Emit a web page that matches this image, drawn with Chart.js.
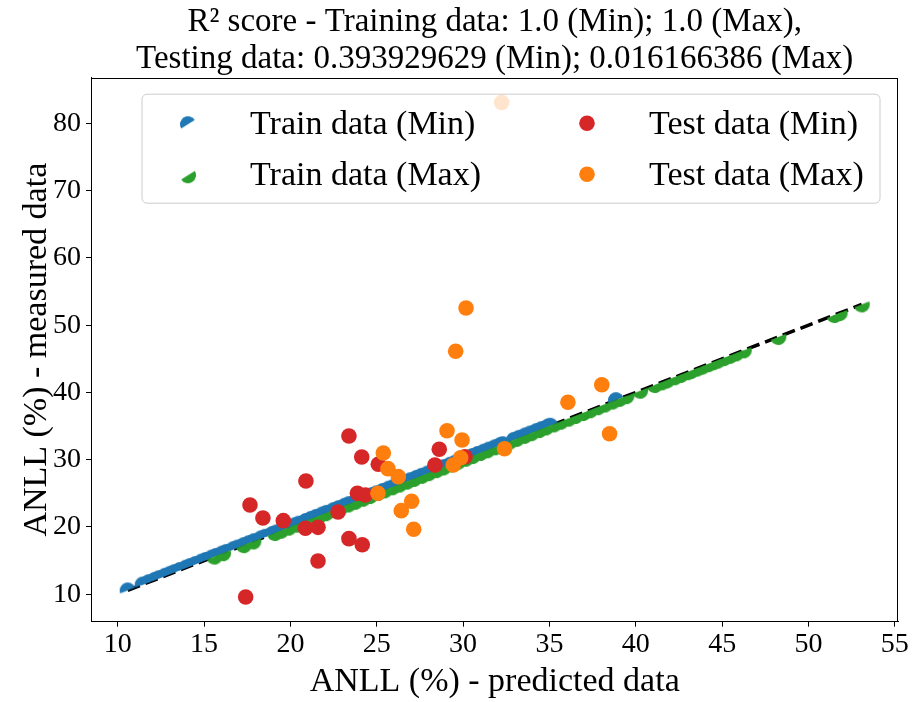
<!DOCTYPE html>
<html>
<head>
<meta charset="utf-8">
<script src="https://cdn.jsdelivr.net/npm/chart.js@4.4.1/dist/chart.umd.min.js"></script>
<style>
  html, body { margin: 0; padding: 0; background: #fff; }
  #wrap { width: 912px; height: 702px; }
</style>
</head>
<body>
<div id="wrap"><canvas id="c" width="912" height="702"></canvas></div>
<script>
// ---------------- DATA ----------------
// Train data lie on the identity line (R^2 = 1.0): measured == predicted
const trainMinPred = [10.58, 11.45, 11.8, 12.15, 12.4, 12.75, 13.05, 13.3, 13.6, 13.95, 14.2, 14.5, 14.85,
  15.1, 15.45, 15.7, 16.05, 16.3, 16.7, 16.95, 17.3, 17.6, 17.9, 18.3, 18.55, 18.95, 19.2, 19.6, 19.9,
  20.25, 20.5, 20.9, 21.2, 21.5, 21.85, 22.1, 22.5, 22.8, 23.15, 23.4, 23.8, 24.05, 24.4, 24.75, 25.0,
  25.35, 25.7, 26.0, 26.3, 26.65, 26.95, 27.3, 27.6, 27.95, 28.3, 28.55, 28.9, 29.25, 29.55, 29.9,
  30.2, 30.55, 30.85, 31.2, 31.5, 31.85, 32.15, 32.3, 32.95, 33.25, 33.6, 33.9, 34.25, 34.55, 34.9, 35.05, 38.85];
const trainMinMeas = trainMinPred.slice();

const trainMaxPred = [15.6, 16.1, 17.3, 17.85, 19.1, 19.45, 19.9, 20.35, 20.8, 21.2, 21.65, 22.05, 22.5,
  22.9, 23.35, 23.75, 24.2, 24.6, 25.05, 25.45, 25.9, 26.3, 26.75, 27.15, 27.6, 28.0, 28.45, 28.85,
  29.3, 29.7, 30.15, 30.55, 31.0, 31.4, 31.85, 32.25, 32.7, 33.1, 33.55, 33.95, 34.4, 34.8, 35.25,
  35.65, 36.1, 36.5, 36.95, 37.35, 37.8, 38.2, 38.65, 39.05, 39.45, 40.25, 41.1, 41.5, 41.8, 42.25,
  42.6, 43.0, 43.2, 43.55, 43.85, 44.2, 44.5, 44.75, 45.1, 45.45, 45.8, 46.25, 48.25, 51.5, 51.8, 53.08];
const trainMaxMeas = trainMaxPred.slice();

const testMinPred = [23.39, 24.13, 25.09, 20.90, 17.66, 18.41, 19.59, 20.87, 21.60, 22.76, 23.88, 24.34,
  23.39, 24.16, 21.60, 17.41, 28.62, 28.37, 30.11];
const testMinMeas = [33.52, 30.40, 29.32, 26.84, 23.27, 21.34, 20.94, 19.81, 19.95, 22.23, 25.00, 24.76,
  18.27, 17.37, 14.95, 9.60, 31.55, 29.22, 30.45];

const testMaxPred = [30.17, 29.57, 29.07, 29.94, 25.38, 25.65, 26.25, 25.07, 27.02, 26.42, 27.14, 29.43,
  29.86, 32.40, 36.07, 38.03, 38.48, 32.23];
const testMaxMeas = [52.55, 46.11, 34.31, 32.93, 31.00, 28.67, 27.48, 25.01, 23.82, 22.43, 19.66, 29.22,
  30.30, 31.62, 38.55, 41.13, 33.85, 83.10];

const xTicks = [10, 15, 20, 25, 30, 35, 40, 45, 50, 55];
const yTicks = [10, 20, 30, 40, 50, 60, 70, 80];

const titleLines = ['R² score - Training data: 1.0 (Min); 1.0 (Max),',
                    'Testing data: 0.393929629 (Min); 0.016166386 (Max)'];
const seriesLabels = ['Train data (Min)', 'Train data (Max)', 'Test data (Min)', 'Test data (Max)'];
const xLabel = 'ANLL (%) - predicted data';
const yLabel = 'ANLL (%) - measured data';

// ---------------- STYLE ----------------
const FONT = "'Liberation Serif', 'DejaVu Serif', serif";
const C_BLUE = '#1f77b4', C_GREEN = '#2ca02c', C_RED = '#d62728', C_ORANGE = '#ff7f0e';
const PR = 7.8;

function halfDisc(color, upper, r, angleDeg) {
  const size = Math.ceil(2 * r + 2);
  const cv = document.createElement('canvas');
  cv.width = size; cv.height = size;
  const g = cv.getContext('2d');
  g.translate(size / 2, size / 2);
  g.rotate(-angleDeg * Math.PI / 180);
  g.beginPath();
  if (upper) g.arc(0, 0, r, Math.PI, 2 * Math.PI);
  else g.arc(0, 0, r, 0, Math.PI);
  g.closePath();
  g.fillStyle = color;
  g.fill();
  return cv;
}
const blueHalf = halfDisc(C_BLUE, true, 8, 21.3);
const greenHalf = halfDisc(C_GREEN, false, 8, 21.3);
const blueHalfLeg = halfDisc(C_BLUE, true, 8, 32);
const greenHalfLeg = halfDisc(C_GREEN, false, 8, 32);

const zip = (xs, ys) => xs.map((v, i) => ({ x: v, y: ys[i] }));
const allPred = trainMinPred.concat(trainMaxPred);
const lineLo = Math.min(...allPred), lineHi = Math.max(...allPred);

const frameTitleLegend = {
  id: 'frameTitleLegend',
  afterDatasetsDraw(chart) {
    const ctx = chart.ctx, a = chart.chartArea;
    ctx.save();
    ctx.strokeStyle = '#000';
    ctx.lineWidth = 1;
    ctx.strokeRect(Math.round(a.left) + 0.5, Math.round(a.top) + 0.5,
                   Math.round(a.right - a.left) - 1, Math.round(a.bottom - a.top) - 1);
    // title centred over the axes
    ctx.fillStyle = '#000';
    ctx.font = '33px ' + FONT;
    ctx.textAlign = 'center';
    ctx.textBaseline = 'middle';
    const cx = (a.left + a.right) / 2;
    titleLines.forEach((t, i) => ctx.fillText(t, cx, a.top - 55 + i * 36.5));
    // legend
    const lx = a.left + 51, ly = a.top + 16.5, lw = 738, lh = 109, rad = 5;
    ctx.beginPath();
    ctx.moveTo(lx + rad, ly);
    ctx.arcTo(lx + lw, ly, lx + lw, ly + lh, rad);
    ctx.arcTo(lx + lw, ly + lh, lx, ly + lh, rad);
    ctx.arcTo(lx, ly + lh, lx, ly, rad);
    ctx.arcTo(lx, ly, lx + lw, ly, rad);
    ctx.closePath();
    ctx.fillStyle = 'rgba(255,255,255,0.8)';
    ctx.fill();
    ctx.strokeStyle = '#cccccc';
    ctx.lineWidth = 1;
    ctx.stroke();
    const items = [
      { label: seriesLabels[0], img: blueHalfLeg, col: 0, row: 0 },
      { label: seriesLabels[1], img: greenHalfLeg, col: 0, row: 1 },
      { label: seriesLabels[2], color: C_RED, col: 1, row: 0 },
      { label: seriesLabels[3], color: C_ORANGE, col: 1, row: 1 }
    ];
    ctx.font = '34px ' + FONT;
    ctx.textBaseline = 'middle';
    ctx.textAlign = 'left';
    items.forEach(it => {
      const mx = lx + 46 + it.col * 399;
      const my = ly + 29 + it.row * 51;
      if (it.img) {
        ctx.drawImage(it.img, mx - it.img.width / 2, my - it.img.height / 2 + 1);
      } else {
        ctx.beginPath();
        ctx.arc(mx, my, PR, 0, 2 * Math.PI);
        ctx.fillStyle = it.color;
        ctx.fill();
      }
      ctx.fillStyle = '#000';
      ctx.fillText(it.label, mx + 62, my + 2);
    });
    ctx.restore();
  }
};

const tickFont = { family: FONT, size: 28 };
const labelFont = { family: FONT, size: 34, lineHeight: 1.2 };

new Chart(document.getElementById('c'), {
  type: 'scatter',
  data: {
    datasets: [
      { label: seriesLabels[3], data: zip(testMaxPred, testMaxMeas), backgroundColor: C_ORANGE,
        pointRadius: PR, pointHoverRadius: PR, borderWidth: 0, order: 0 },
      { label: seriesLabels[2], data: zip(testMinPred, testMinMeas), backgroundColor: C_RED,
        pointRadius: PR, pointHoverRadius: PR, borderWidth: 0, order: 1 },
      { label: seriesLabels[1], data: zip(trainMaxPred, trainMaxMeas), pointStyle: greenHalf,
        backgroundColor: C_GREEN, pointRadius: PR, borderWidth: 0, order: 2 },
      { label: seriesLabels[0], data: zip(trainMinPred, trainMinMeas), pointStyle: blueHalf,
        backgroundColor: C_BLUE, pointRadius: PR, borderWidth: 0, order: 3 },
      { label: 'identity', data: [{ x: lineLo, y: lineLo }, { x: lineHi, y: lineHi }], showLine: true,
        borderColor: '#000', borderWidth: 3.5, borderDash: [13, 6], pointRadius: 0, order: 4 }
    ]
  },
  options: {
    responsive: false,
    animation: false,
    layout: { padding: { left: 0, right: 13.6, top: 77.7, bottom: 0 } },
    plugins: {
      legend: { display: false },
      tooltip: { enabled: false },
      title: { display: false }
    },
    scales: {
      x: {
        type: 'linear', min: 8.455, max: 55.205,
        afterBuildTicks: s => { s.ticks = xTicks.map(v => ({ value: v })); },
        afterFit: s => { s.height = 80.3; },
        ticks: { font: tickFont, color: '#000', padding: 1, maxRotation: 0, autoSkip: false,
                 callback: v => String(v) },
        grid: { drawOnChartArea: false, drawTicks: true, tickLength: 5, tickColor: '#000', tickWidth: 1 },
        border: { display: true, color: '#000', width: 1 },
        title: { display: true, text: xLabel, color: '#000', font: labelFont, padding: { top: 0, bottom: 0 } }
      },
      y: {
        type: 'linear', min: 5.925, max: 86.775,
        afterBuildTicks: s => { s.ticks = yTicks.map(v => ({ value: v })); },
        afterFit: s => { s.width = 91; },
        ticks: { font: tickFont, color: '#000', padding: 5, autoSkip: false, callback: v => String(v) },
        grid: { drawOnChartArea: false, drawTicks: true, tickLength: 5, tickColor: '#000', tickWidth: 1 },
        border: { display: true, color: '#000', width: 1 },
        title: { display: true, text: yLabel, color: '#000', font: labelFont, padding: { top: 17, bottom: 0 } }
      }
    }
  },
  plugins: [frameTitleLegend]
});
</script>
</body>
</html>
